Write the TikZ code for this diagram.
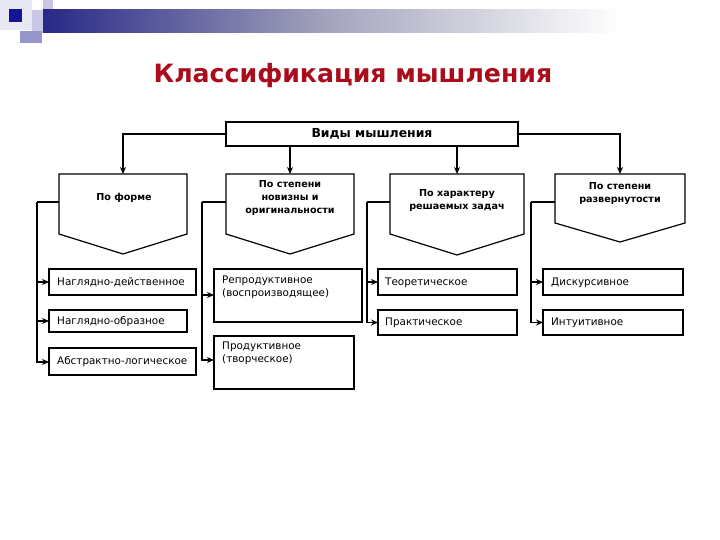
\documentclass[tikz,border=0pt]{standalone}
\usepackage{fontspec}
\setmainfont{DejaVu Sans}
\usetikzlibrary{arrows.meta,calc}
\definecolor{titlered}{RGB}{170,12,28}
\definecolor{navy}{RGB}{40,40,135}
\definecolor{darksq}{RGB}{20,20,150}
\definecolor{midsq}{RGB}{150,150,205}
\definecolor{palesq}{RGB}{200,200,230}
\definecolor{paler}{RGB}{232,232,244}
\definecolor{midgrad}{RGB}{165,165,190}
\begin{document}
\begin{tikzpicture}[x=1pt,y=-1pt,
  leaf/.style={draw,line width=1.4pt,anchor=north west,inner sep=0pt,outer sep=0pt},
  pent/.style={anchor=north west,inner sep=0pt,outer sep=0pt},
  pshape/.style={draw,line width=1.2pt,line join=miter},
  lt/.style={inner sep=0pt,font=\fontsize{10.4}{13}\selectfont,align=left},
  bt/.style={inner sep=0pt,font=\bfseries\fontsize{9.6}{13}\selectfont,align=center},
  con/.style={line width=1.3pt},
  arr/.style={line width=1.3pt,-{Stealth[length=7pt,width=6pt]}}]
\useasboundingbox (0,0) rectangle (720,540);
% decoration
\fill[paler] (0,0) rectangle (32,30);
\fill[palesq] (32,10) rectangle (43,33);
\fill[palesq] (43,0) rectangle (53,10);
\fill[midsq] (20,31) rectangle (42,43);
\fill[darksq] (9,9) rectangle (22,22);
\shade[left color=navy,right color=white,middle color=midgrad] (43,10) rectangle (620,33);
% title
\node[text=titlered,font=\bfseries\fontsize{25.2}{28}\selectfont,inner sep=0pt] (title) at (353,76) {Классификация мышления};
% top box
\node[leaf,minimum width=292pt,minimum height=24pt] (top) at (226,122) {};
\node[inner sep=0pt,font=\bfseries\fontsize{12.4}{14}\selectfont] (topt) at (top.center) {Виды мышления};
% pentagons
\node[pent,minimum width=128pt,minimum height=60pt] (p1) at (59,174) {};
\node[pent,minimum width=128pt,minimum height=60pt] (p2) at (226,174) {};
\node[pent,minimum width=134pt,minimum height=60pt] (p3) at (390,174) {};
\node[pent,minimum width=130pt,minimum height=49pt] (p4) at (555,174) {};
\foreach \p/\d in {p1/20,p2/20,p3/21,p4/19}{
  \draw[pshape] (\p.north west) -- (\p.north east) -- (\p.south east) -- ($(\p.south)+(0,\d)$) -- (\p.south west) -- cycle;
}
\node[bt] (p1t) at (124,198) {По форме};
\node[bt] (p2t) at (290,198) {По степени\\новизны и\\оригинальности};
\node[bt] (p3t) at (457,200) {По характеру\\решаемых задач};
\node[bt] (p4t) at (620,193.5) {По степени\\развернутости};
% top connectors
\draw[arr] (top.west) -| (p1.north);
\draw[arr] (top.east) -| (p4.north);
\draw[arr] (top.south -| p2.north) -- (p2.north);
\draw[arr] (top.south -| p3.north) -- (p3.north);
% leaves
\node[leaf,minimum width=147pt,minimum height=26pt] (l1a) at (49,269) {};
\node[leaf,minimum width=138pt,minimum height=22pt] (l1b) at (49,310) {};
\node[leaf,minimum width=147pt,minimum height=27pt] (l1c) at (49,348) {};
\node[leaf,minimum width=148pt,minimum height=53pt] (l2a) at (214,269) {};
\node[leaf,minimum width=140pt,minimum height=53pt] (l2b) at (214,336) {};
\node[leaf,minimum width=139pt,minimum height=26pt] (l3a) at (378,269) {};
\node[leaf,minimum width=139pt,minimum height=25pt] (l3b) at (378,310) {};
\node[leaf,minimum width=140pt,minimum height=26pt] (l4a) at (543,269) {};
\node[leaf,minimum width=140pt,minimum height=25pt] (l4b) at (543,310) {};
\node[lt,anchor=west] (t1a) at (57,282.5) {Наглядно-действенное};
\node[lt,anchor=west] (t1b) at (57,321.5) {Наглядно-образное};
\node[lt,anchor=west] (t1c) at (57,361.5) {Абстрактно-логическое};
\node[lt,anchor=north west] (t2a) at (222,276) {Репродуктивное\\(воспроизводящее)};
\node[lt,anchor=north west] (t2b) at (222,342) {Продуктивное\\(творческое)};
\node[lt,anchor=west] (t3a) at (385,282.5) {Теоретическое};
\node[lt,anchor=west] (t3b) at (385,322.5) {Практическое};
\node[lt,anchor=west] (t4a) at (551,282.5) {Дискурсивное};
\node[lt,anchor=west] (t4b) at (551,322.5) {Интуитивное};
% branch connectors
\coordinate (b1) at (37,202);
\coordinate (b2) at (202,202);
\coordinate (b3) at (367,202);
\coordinate (b4) at (531,202);
\draw[con] (b1) -- (b1 -| p1.west);
\draw[con] (b2) -- (b2 -| p2.west);
\draw[con] (b3) -- (b3 -| p3.west);
\draw[con] (b4) -- (b4 -| p4.west);
\draw[arr] (b1) |- ($(l1c.west)+(0,0.5)$);
\draw[arr] (b1 |- l1a.west) -- (l1a.west);
\draw[arr] (b1 |- l1b.west) -- (l1b.west);
\draw[arr] (b2) |- (l2b.west |- 0,360);
\draw[arr] (b2 |- 0,295) -- (l2a.west |- 0,295);
\draw[arr] (b3) |- (l3b.west);
\draw[arr] (b3 |- l3a.west) -- (l3a.west);
\draw[arr] (b4) |- (l4b.west);
\draw[arr] (b4 |- l4a.west) -- (l4a.west);
\end{tikzpicture}
\end{document}
